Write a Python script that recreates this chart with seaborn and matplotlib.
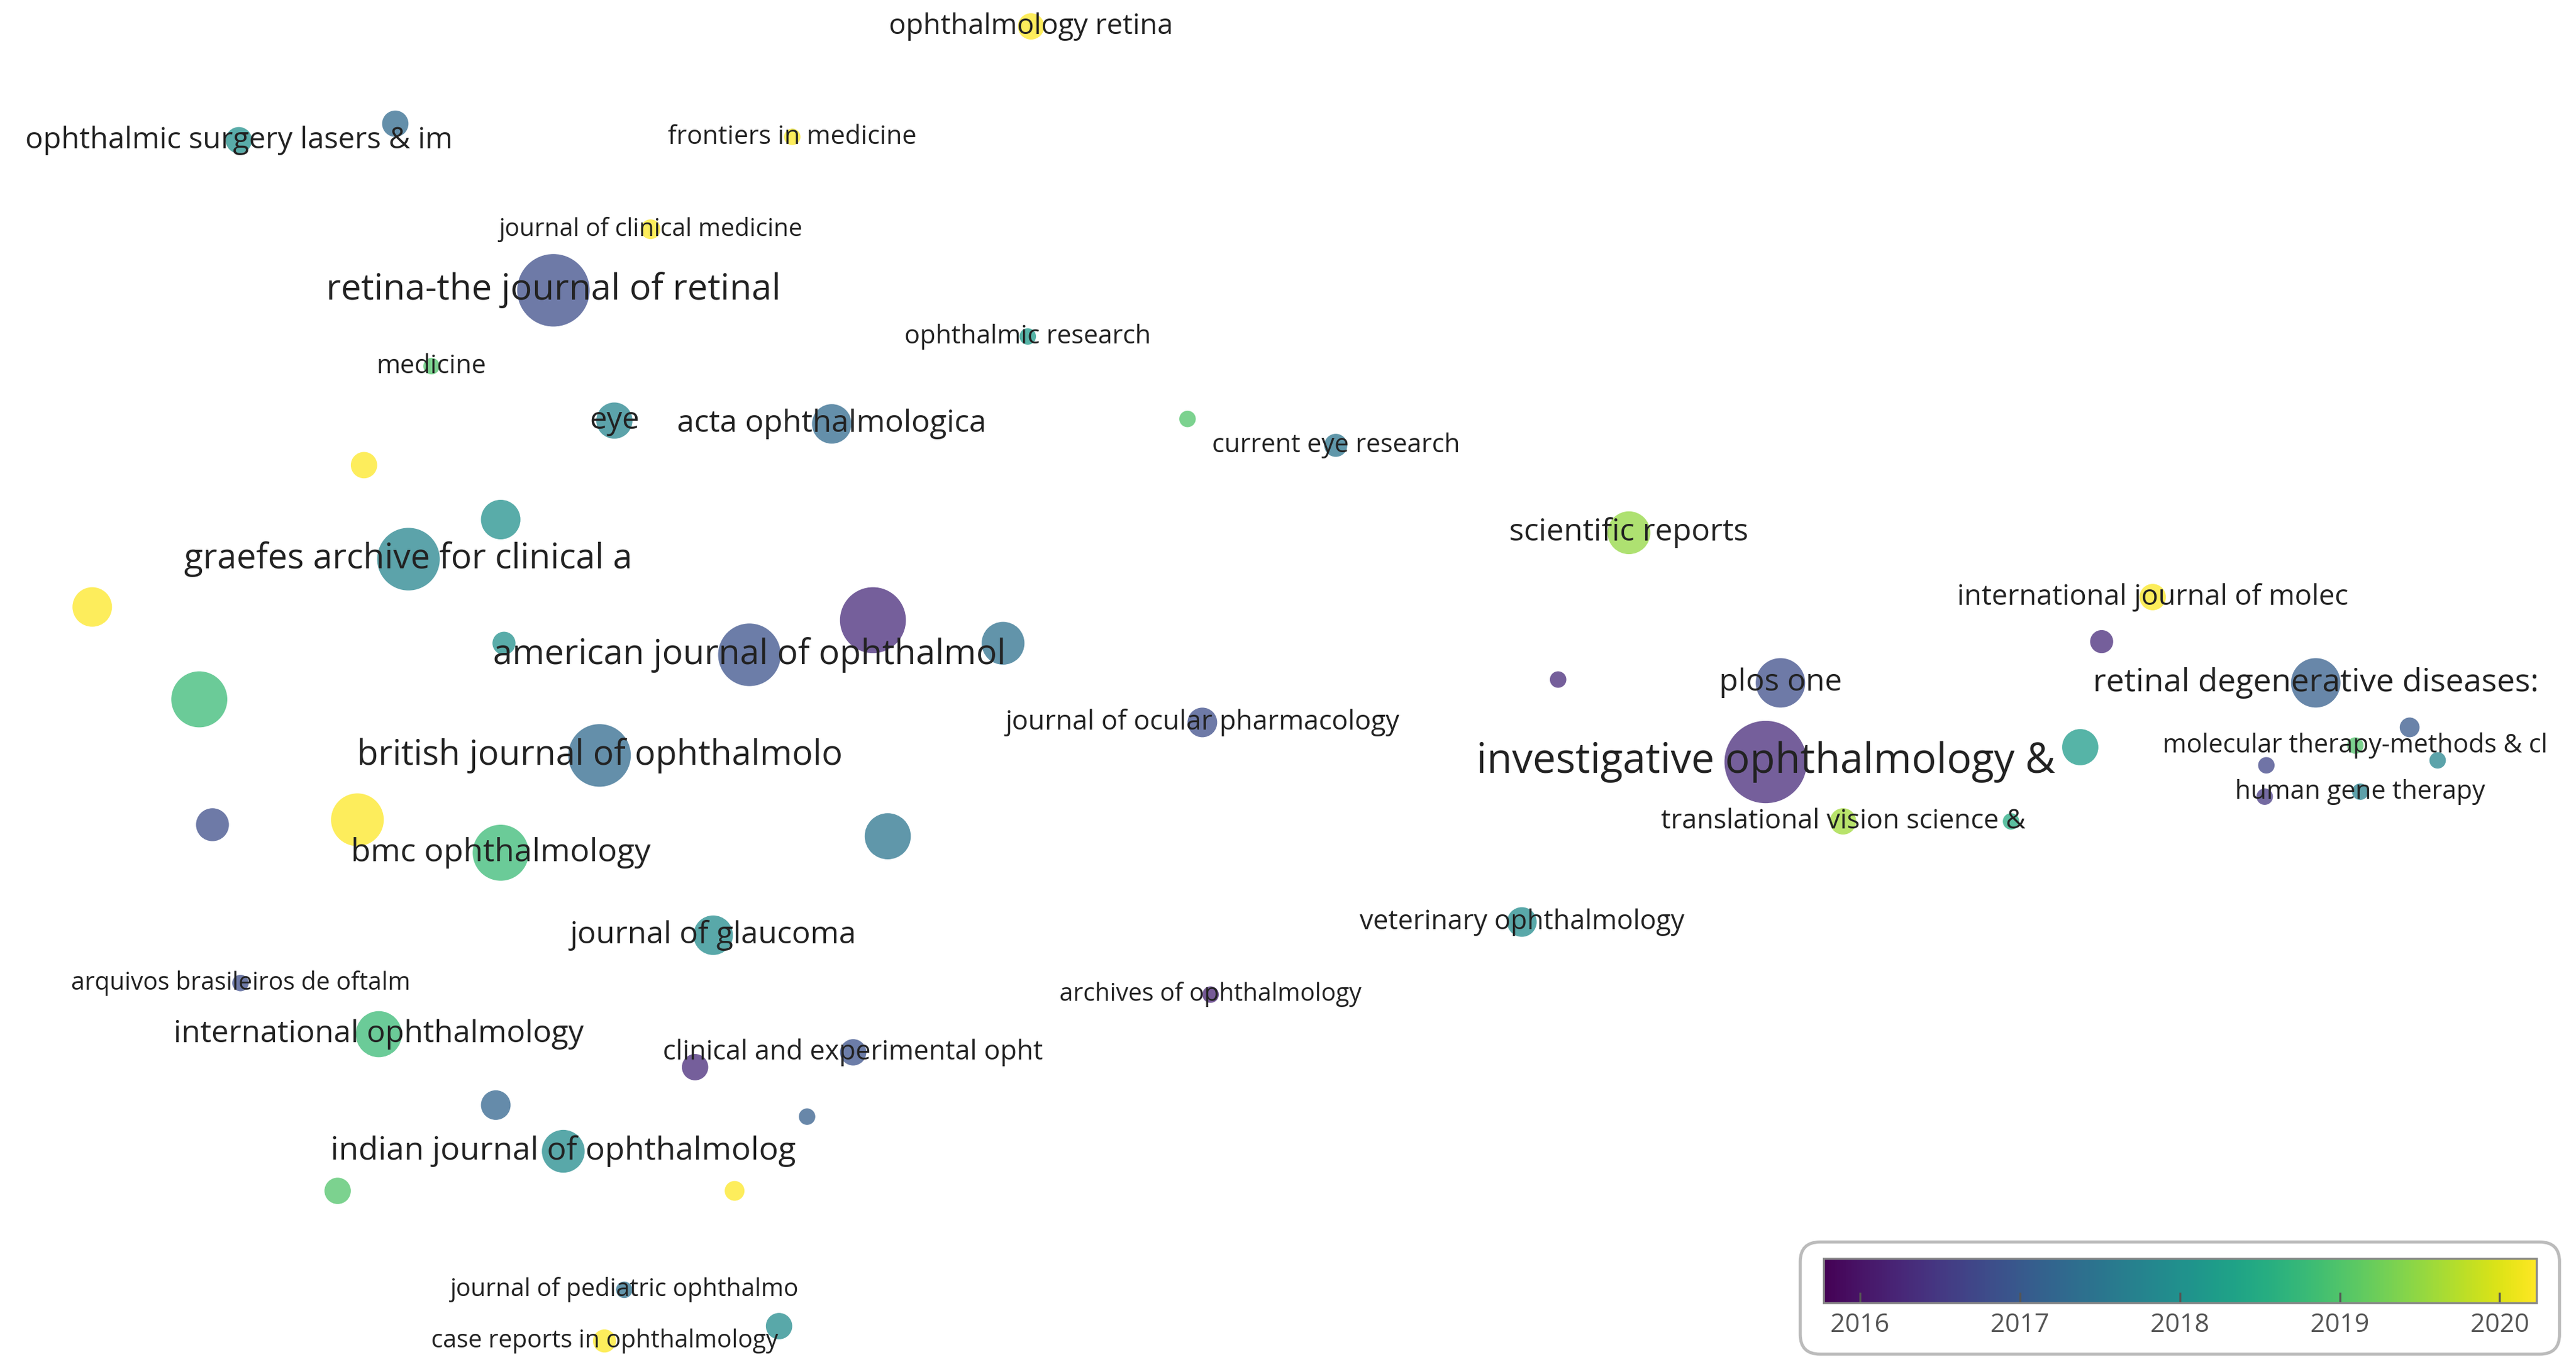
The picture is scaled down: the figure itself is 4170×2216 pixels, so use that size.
import matplotlib
matplotlib.use("Agg")
import matplotlib.pyplot as plt
from matplotlib.patches import FancyBboxPatch
import pandas as pd
import seaborn as sns

# x, y in picture units (0..1564, 0..830), radius, average year, label, label font size
xs = [626, 145, 240, 481, 395, 336, 624, 262, 373, 505, 721, 811, 221, 304, 248, 989, 56, 530,
      455, 306, 609, 1307, 1276, 946, 1081, 1406, 121, 730, 1463, 1072, 1263, 1430, 1376, 1480,
      1433, 1375, 364, 129, 217, 304, 1119, 1221, 539, 924, 433, 146, 735, 230, 518, 422, 301,
      490, 342, 205, 446, 379, 473, 367]
ys = [16, 85, 75, 83, 139, 176, 204, 222, 255, 257, 254, 270, 282, 315, 339, 323, 368, 376,
      397, 390, 390, 362, 389, 412, 414, 414, 424, 438, 441, 462, 453, 452, 464, 461,
      480, 483, 458, 500, 497, 517, 498, 498, 507, 559, 567, 596, 603, 627, 638, 647, 670,
      677, 698, 722, 722, 782, 804, 813]
radius = [8, 8, 8, 5, 6, 22, 5, 5, 11, 12, 5, 7, 8, 12, 19, 13, 12, 20,
          19, 7, 13, 8, 7, 5, 15, 15, 17, 9, 6, 25, 11, 5, 5, 5,
          5, 5, 19, 10, 16, 17, 8, 5, 14, 9, 12, 5, 5, 14, 8, 8, 9,
          5, 13, 8, 6, 5, 8, 7]
year = [2020.3, 2018.0, 2017.3, 2020.3, 2020.3, 2016.8, 2018.2, 2019.0, 2017.8, 2017.3, 2019.0,
        2017.5, 2020.3, 2018.0, 2017.8, 2019.5, 2020.3, 2016.3, 2016.9, 2018.0, 2017.4, 2020.2,
        2016.3, 2016.3, 2016.8, 2017.1, 2018.8, 2016.8, 2017.0, 2016.3, 2018.2, 2019.0, 2016.7,
        2017.8, 2017.7, 2016.5, 2017.3, 2016.8, 2020.3, 2018.8, 2019.6, 2018.5, 2017.5, 2017.9,
        2017.9, 2016.8, 2016.2, 2018.8, 2016.9, 2016.3, 2017.2, 2017.1, 2017.9, 2019.0, 2020.3,
        2017.4, 2017.9, 2020.3]
labels = ["ophthalmology retina", "ophthalmic surgery lasers & im", "", "frontiers in medicine",
          "journal of clinical medicine", "retina-the journal of retinal", "ophthalmic research",
          "medicine", "eye", "acta ophthalmologica", "", "current eye research", "", "",
          "graefes archive for clinical a", "scientific reports", "", "",
          "american journal of ophthalmol", "", "", "international journal of molec", "", "",
          "plos one", "retinal degenerative diseases:", "", "journal of ocular pharmacology", "",
          "investigative ophthalmology &", "", "molecular therapy-methods & cl", "", "",
          "human gene therapy", "", "british journal of ophthalmolo", "", "", "bmc ophthalmology",
          "translational vision science &", "", "", "veterinary ophthalmology",
          "journal of glaucoma", "arquivos brasileiros de oftalm", "archives of ophthalmology",
          "international ophthalmology", "clinical and experimental opht", "", "", "",
          "indian journal of ophthalmolog", "", "", "journal of pediatric ophthalmo", "",
          "case reports in ophthalmology"]
font_pt = [11, 11.5, 0, 10, 9.5, 14, 10, 10, 12, 12, 0, 10, 0, 0, 13.5, 12, 0, 0,
           13.5, 0, 0, 11, 0, 0, 12, 12.5, 0, 10.5, 0, 16, 0, 10, 0, 0,
           10, 0, 13.5, 0, 0, 12.5, 10.5, 0, 0, 10.5, 12, 9.5, 9.5, 12, 10.5, 0, 0,
           0, 12.5, 0, 0, 9.5, 0, 9.5]

df = pd.DataFrame({"x": xs, "y": ys, "r": radius, "year": year})
df["s"] = (1.28 * df["r"]) ** 2

fig = plt.figure(figsize=(13.9, 7.3867), dpi=300)
ax = fig.add_axes([0, 0, 1, 1])
vmin, vmax = 2015.77, 2020.23
norm = plt.Normalize(vmin, vmax)
cmap = plt.get_cmap("viridis")

order = df.sort_values("r", ascending=False)
ax.scatter(order["x"], order["y"], s=order["s"], c=order["year"], cmap=cmap, norm=norm,
           alpha=0.75, linewidths=0, zorder=2)

for x, y, lab, fs in zip(xs, ys, labels, font_pt):
    if lab:
        ax.text(x, y, lab, ha="center", va="center", fontsize=fs, color="#222222",
                family="Open Sans", zorder=3)

ax.set_xlim(0, 1564)
ax.set_ylim(830, 0)
ax.axis("off")

# colorbar in rounded box
box = FancyBboxPatch((1093, 753), 461, 68, boxstyle="round,pad=0,rounding_size=12",
                     facecolor="white", edgecolor="#bbbbbb", linewidth=1.2, zorder=4)
ax.add_patch(box)
cax = fig.add_axes([1107 / 1564, 1 - 790 / 830, 433 / 1564, 27 / 830])
cax.set_zorder(5)
cb = fig.colorbar(plt.cm.ScalarMappable(norm=norm, cmap=cmap), cax=cax, orientation="horizontal")
cb.set_ticks([2016, 2017, 2018, 2019, 2020])
cb.ax.tick_params(labelsize=10, colors="#555555", length=4, direction="in")
for t in cb.ax.get_xticklabels():
    t.set_family("Open Sans")
cb.outline.set_edgecolor("#888888")

fig.savefig("out.png", dpi=300, facecolor="white")
